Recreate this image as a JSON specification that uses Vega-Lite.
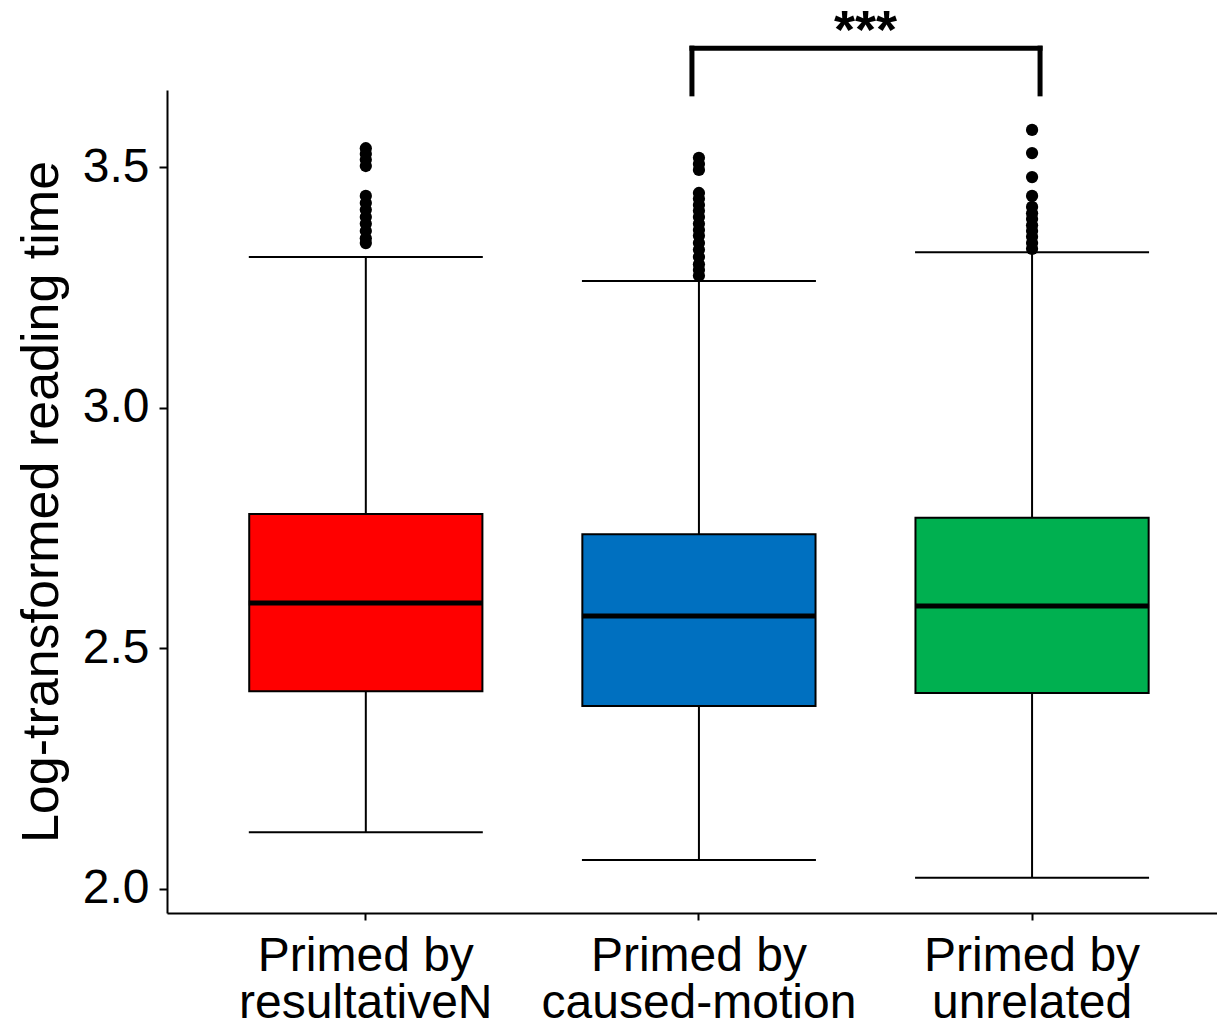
{
  "$schema": "https://vega.github.io/schema/vega-lite/v6.json",
  "width": 1050,
  "height": 823,
  "autosize": {"type": "none"},
  "padding": {"left": 167, "top": 90, "right": 0, "bottom": 111},
  "background": "white",
  "config": {
    "view": {"stroke": null},
    "font": "Liberation Sans",
    "axis": {
      "grid": false,
      "domainColor": "black",
      "domainWidth": 2,
      "tickColor": "black",
      "tickWidth": 2,
      "labelColor": "black",
      "labelFont": "Liberation Sans",
      "titleFont": "Liberation Sans",
      "titleColor": "black",
      "titleFontWeight": "normal",
      "labelLimit": 0
    }
  },
  "datasets": {
    "boxes": [
      {"cat": "Primed by resultativeN", "lower": 2.118, "q1": 2.411, "median": 2.594, "q3": 2.779, "upper": 3.313},
      {"cat": "Primed by caused-motion", "lower": 2.06, "q1": 2.38, "median": 2.567, "q3": 2.737, "upper": 3.263},
      {"cat": "Primed by unrelated", "lower": 2.023, "q1": 2.407, "median": 2.588, "q3": 2.771, "upper": 3.323}
    ],
    "outliers": [
      {"cat": "Primed by resultativeN", "value": 3.539},
      {"cat": "Primed by resultativeN", "value": 3.527},
      {"cat": "Primed by resultativeN", "value": 3.515},
      {"cat": "Primed by resultativeN", "value": 3.502},
      {"cat": "Primed by resultativeN", "value": 3.44},
      {"cat": "Primed by resultativeN", "value": 3.425},
      {"cat": "Primed by resultativeN", "value": 3.411},
      {"cat": "Primed by resultativeN", "value": 3.396},
      {"cat": "Primed by resultativeN", "value": 3.382},
      {"cat": "Primed by resultativeN", "value": 3.367},
      {"cat": "Primed by resultativeN", "value": 3.352},
      {"cat": "Primed by resultativeN", "value": 3.342},
      {"cat": "Primed by caused-motion", "value": 3.519},
      {"cat": "Primed by caused-motion", "value": 3.506},
      {"cat": "Primed by caused-motion", "value": 3.494},
      {"cat": "Primed by caused-motion", "value": 3.446},
      {"cat": "Primed by caused-motion", "value": 3.434},
      {"cat": "Primed by caused-motion", "value": 3.421},
      {"cat": "Primed by caused-motion", "value": 3.409},
      {"cat": "Primed by caused-motion", "value": 3.396},
      {"cat": "Primed by caused-motion", "value": 3.382},
      {"cat": "Primed by caused-motion", "value": 3.369},
      {"cat": "Primed by caused-motion", "value": 3.357},
      {"cat": "Primed by caused-motion", "value": 3.342},
      {"cat": "Primed by caused-motion", "value": 3.328},
      {"cat": "Primed by caused-motion", "value": 3.313},
      {"cat": "Primed by caused-motion", "value": 3.298},
      {"cat": "Primed by caused-motion", "value": 3.286},
      {"cat": "Primed by caused-motion", "value": 3.274},
      {"cat": "Primed by unrelated", "value": 3.577},
      {"cat": "Primed by unrelated", "value": 3.529},
      {"cat": "Primed by unrelated", "value": 3.479},
      {"cat": "Primed by unrelated", "value": 3.44},
      {"cat": "Primed by unrelated", "value": 3.417},
      {"cat": "Primed by unrelated", "value": 3.404},
      {"cat": "Primed by unrelated", "value": 3.392},
      {"cat": "Primed by unrelated", "value": 3.379},
      {"cat": "Primed by unrelated", "value": 3.367},
      {"cat": "Primed by unrelated", "value": 3.355},
      {"cat": "Primed by unrelated", "value": 3.342},
      {"cat": "Primed by unrelated", "value": 3.33}
    ],
    "bracket": [
      {"from": "Primed by caused-motion", "to": "Primed by unrelated", "top": 3.747, "bottom": 3.652, "label": "***"}
    ]
  },
  "encoding": {
    "x": {
      "field": "cat",
      "type": "nominal",
      "sort": ["Primed by resultativeN", "Primed by caused-motion", "Primed by unrelated"],
      "scale": {
        "domain": ["Primed by resultativeN", "Primed by caused-motion", "Primed by unrelated"],
        "paddingInner": 0,
        "paddingOuter": 0.076,
        "align": 0.637
      },
      "axis": {
        "title": null,
        "labelAngle": 0,
        "labelFontSize": 48,
        "labelPadding": 12,
        "labelLineHeight": 47,
        "labelLimit": 0,
        "tickSize": 7,
        "labelExpr": "['Primed by', substring(datum.label, 10)]"
      }
    }
  },
  "layer": [
    {
      "data": {"name": "boxes"},
      "mark": {"type": "rule", "color": "black", "strokeWidth": 2},
      "encoding": {
        "y": {
          "field": "lower",
          "type": "quantitative",
          "scale": {"domain": [1.95, 3.66], "nice": false, "zero": false},
          "axis": {
            "title": "Log-transformed reading time",
            "titleFontSize": 52,
            "titlePadding": 14,
            "values": [2.0, 2.5, 3.0, 3.5],
            "format": ".1f",
            "labelFontSize": 48,
            "labelPadding": 10,
            "tickSize": 8
          }
        },
        "y2": {"field": "upper"}
      }
    },
    {
      "data": {"name": "boxes"},
      "mark": {"type": "tick", "color": "black", "size": 234, "thickness": 2, "opacity": 1},
      "encoding": {"y": {"field": "upper", "type": "quantitative"}}
    },
    {
      "data": {"name": "boxes"},
      "mark": {"type": "tick", "color": "black", "size": 234, "thickness": 2, "opacity": 1},
      "encoding": {"y": {"field": "lower", "type": "quantitative"}}
    },
    {
      "data": {"name": "boxes"},
      "mark": {"type": "bar", "width": {"band": 0.7}, "stroke": "black", "strokeWidth": 2, "opacity": 1},
      "encoding": {
        "y": {"field": "q1", "type": "quantitative"},
        "y2": {"field": "q3"},
        "fill": {
          "field": "cat",
          "type": "nominal",
          "scale": {
            "domain": ["Primed by resultativeN", "Primed by caused-motion", "Primed by unrelated"],
            "range": ["#FF0000", "#0070C0", "#00B050"]
          },
          "legend": null
        }
      }
    },
    {
      "data": {"name": "boxes"},
      "mark": {"type": "tick", "color": "black", "size": 234, "thickness": 5, "opacity": 1},
      "encoding": {"y": {"field": "median", "type": "quantitative"}}
    },
    {
      "data": {"name": "outliers"},
      "mark": {"type": "point", "filled": true, "color": "black", "size": 150, "opacity": 1},
      "encoding": {"y": {"field": "value", "type": "quantitative"}}
    },
    {
      "data": {"name": "bracket"},
      "mark": {"type": "rule", "color": "black", "strokeWidth": 5, "strokeCap": "square"},
      "encoding": {
        "x": {"field": "from", "type": "nominal", "bandPosition": 0.479},
        "y": {"field": "bottom", "type": "quantitative"},
        "y2": {"field": "top"}
      }
    },
    {
      "data": {"name": "bracket"},
      "mark": {"type": "rule", "color": "black", "strokeWidth": 5, "strokeCap": "square"},
      "encoding": {
        "x": {"field": "to", "type": "nominal", "bandPosition": 0.524},
        "y": {"field": "bottom", "type": "quantitative"},
        "y2": {"field": "top"}
      }
    },
    {
      "data": {"name": "bracket"},
      "mark": {"type": "rule", "color": "black", "strokeWidth": 5, "strokeCap": "square", "x2Offset": 8},
      "encoding": {
        "x": {"field": "from", "type": "nominal", "bandPosition": 0.479},
        "x2": {"field": "to"},
        "y": {"field": "top", "type": "quantitative"}
      }
    },
    {
      "data": {"name": "bracket"},
      "mark": {"type": "text", "fontSize": 54, "fontWeight": "bold", "color": "black", "baseline": "alphabetic", "align": "center"},
      "encoding": {
        "x": {"field": "from", "type": "nominal", "bandPosition": 1},
        "y": {"field": "top", "type": "quantitative"},
        "text": {"field": "label"}
      }
    }
  ]
}
